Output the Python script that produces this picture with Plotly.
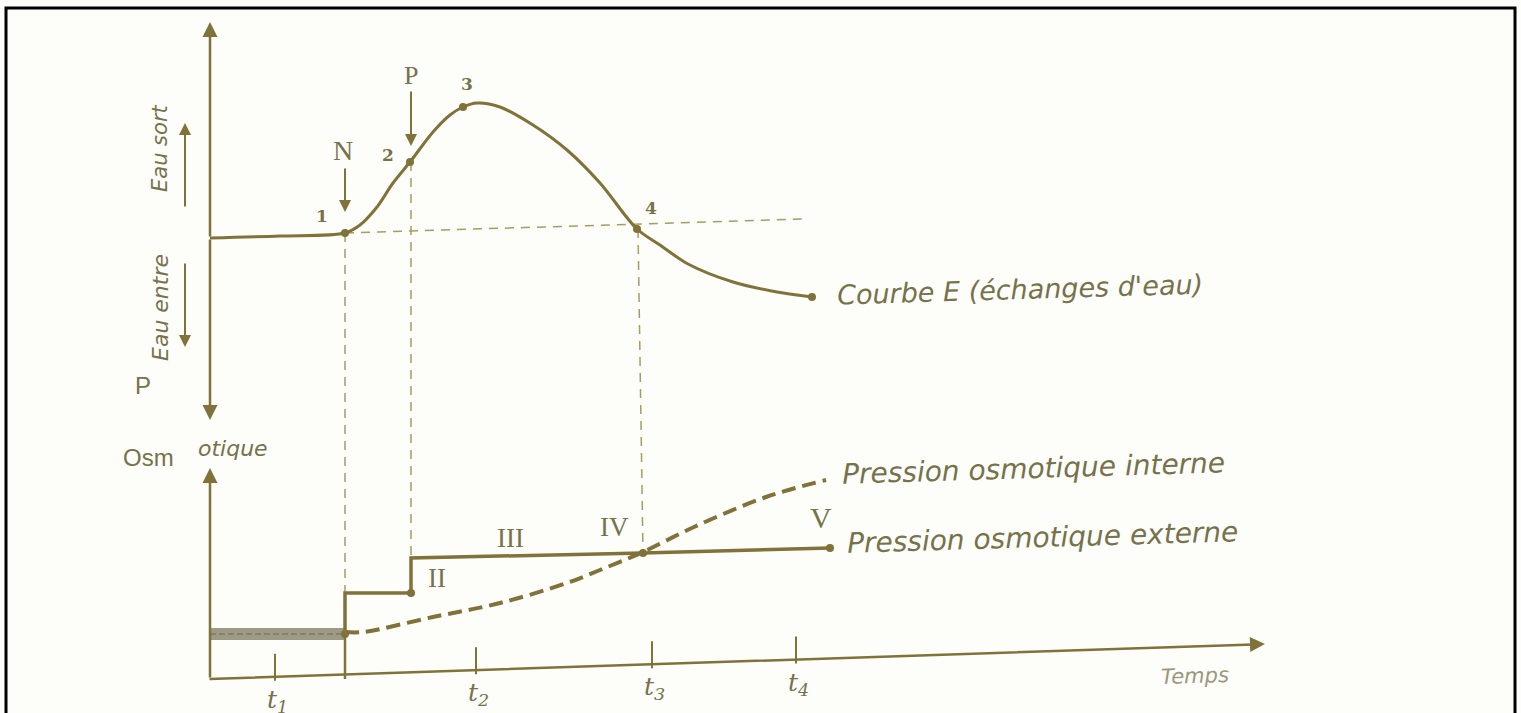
import plotly.graph_objects as go

# ---------------- data ----------------
# Upper panel: curve E (water exchanges) vs time
time_E = [0, 7, 13.5, 15.0, 16.7, 18.3, 20.0, 22.3, 24.0, 25.3, 26.7, 29.0, 32.3,
          35.7, 39.0, 42.7, 45.0, 47.8, 52.3, 56.7, 60.2]
E_vals = [-0.2, 0.0, 0.3, 1.1, 2.9, 5.3, 7.4, 10.4, 12.1, 12.9, 13.3, 12.9, 11.1,
          8.6, 5.3, 0.7, -0.9, -2.8, -4.6, -5.6, -6.1]
E_point_labels = ["1", "2", "3", "4"]
E_point_t = [13.5, 20.0, 25.3, 42.7]
E_point_v = [0.3, 7.4, 12.9, 0.7]
E_end_t = [60.2]
E_end_v = [-6.1]
E_ref_t = [13.5, 59.5]          # dashed reference level (E = 0)
E_ref_v = [0.3, 1.7]

# Lower panel: osmotic pressures vs time
band_t = [0, 13.5]              # common level before N
band_v = [4.6, 4.6]
ext_t = [13.5, 13.5, 20.1, 20.1, 43.3, 62.0]     # external (step) pressure
ext_v = [4.6, 8.7, 8.7, 12.2, 12.7, 13.2]
int_t = [13.5, 15.3, 22.3, 29.0, 35.7, 39.0, 43.3, 48.4, 55.6, 61.6]  # internal
int_v = [4.8, 4.8, 6.3, 7.7, 9.7, 11.0, 12.8, 15.3, 18.3, 20.0]
osm_dot_t = [13.5, 20.1, 43.3, 62.0]
osm_dot_v = [4.6, 8.7, 12.7, 13.2]
roman_labels = ["II", "III", "IV", "V"]
roman_t = [22.7, 30.0, 40.4, 61.1]
roman_v = [10.2, 14.2, 15.3, 16.3]

# Time axis ticks
tick_t = [6.5, 26.6, 44.2, 58.6]
tick_labels = ["t<sub>1</sub>", "t<sub>2</sub>", "t<sub>3</sub>", "t<sub>4</sub>"]

# ---------------- layout constants ----------------
E_OFFSET = 44.4       # vertical position of the E=0 level in the shared frame
LINE = "#807238"
GUIDE = "#a69d62"
TXT = "#76724a"
BAND = "#9d9a86"
W, H = 1521, 713

def e(v):
    return [x + E_OFFSET for x in v]

fig = go.Figure()

# guide dashed lines
fig.add_trace(go.Scatter(x=E_ref_t, y=e(E_ref_v), mode="lines",
                         line=dict(color=GUIDE, width=1.5, dash="9px,7px"), hoverinfo="skip"))
for (tt, tb, vt, vb) in [(13.5, 13.5, 0.3 + E_OFFSET, 8.7),
                         (20.1, 20.1, 7.4 + E_OFFSET, 12.2),
                         (42.8, 43.3, 0.7 + E_OFFSET, 12.7)]:
    fig.add_trace(go.Scatter(x=[tt, tb], y=[vt, vb], mode="lines",
                             line=dict(color=GUIDE, width=1.5, dash="9px,7px"), hoverinfo="skip"))

# curve E
fig.add_trace(go.Scatter(x=time_E, y=e(E_vals), mode="lines",
                         line=dict(color=LINE, width=3, shape="spline", smoothing=0.9),
                         hoverinfo="skip"))
fig.add_trace(go.Scatter(x=E_point_t + E_end_t, y=e(E_point_v + E_end_v), mode="markers",
                         marker=dict(color=LINE, size=8), hoverinfo="skip"))

# osmotic pressures
fig.add_trace(go.Scatter(x=band_t, y=band_v, mode="lines",
                         line=dict(color=BAND, width=12), hoverinfo="skip"))
fig.add_trace(go.Scatter(x=band_t, y=band_v, mode="lines",
                         line=dict(color="#86826a", width=2, dash="6px,3px"), hoverinfo="skip"))
fig.add_trace(go.Scatter(x=ext_t, y=ext_v, mode="lines",
                         line=dict(color=LINE, width=3.5), hoverinfo="skip"))
fig.add_trace(go.Scatter(x=int_t, y=int_v, mode="lines",
                         line=dict(color=LINE, width=4, dash="14px,7px", shape="spline"),
                         hoverinfo="skip"))
fig.add_trace(go.Scatter(x=osm_dot_t, y=osm_dot_v, mode="markers",
                         marker=dict(color=LINE, size=8), hoverinfo="skip"))

# N mark: solid segment from the step down to the time axis
fig.add_trace(go.Scatter(x=[13.5, 13.5], y=[4.6, 0.1], mode="lines",
                         line=dict(color=LINE, width=2.5), hoverinfo="skip"))

# ---------------- axes drawn as arrows ----------------
ax0 = (-0.2, 0.1)
ax1 = (105.5, 3.6)

def axis_y(t):
    return ax0[1] + (ax1[1] - ax0[1]) * (t - ax0[0]) / (ax1[0] - ax0[0])

ann = []

def arrow(x0, y0, x1, y1, color=LINE, width=2.5, head=2, size=1.2):
    ann.append(dict(x=x1, y=y1, ax=x0, ay=y0, xref="x", yref="y", axref="x", ayref="y",
                    text="", showarrow=True, arrowhead=head, arrowsize=size,
                    arrowwidth=width, arrowcolor=color))

arrow(ax0[0], ax0[1], ax1[0], ax1[1])                       # time axis
arrow(0, 0.1, 0, 21.2)                                      # osmotic axis
arrow(0, E_OFFSET - 0.2, 0, 65.8)                           # E axis up
arrow(0, E_OFFSET - 0.2, 0, 26.0)                           # E axis down
arrow(-2.5, 47.2, -2.5, 55.7, width=2)                      # "eau sort"
arrow(-2.5, 41.8, -2.5, 33.3, width=2)                      # "eau entre"
arrow(13.5, 51.3, 13.5, 46.8, width=2)                      # N arrow
arrow(20.1, 59.0, 20.1, 53.4, width=2)                      # P arrow

# tick marks
for t in tick_t:
    yy = axis_y(t)
    fig.add_trace(go.Scatter(x=[t, t], y=[yy - 0.4, yy + 2.3], mode="lines",
                             line=dict(color=LINE, width=2), hoverinfo="skip"))

def text(x, y, s, size=20, family="DejaVu Sans", color=TXT, angle=0, xanchor="center"):
    ann.append(dict(x=x, y=y, xref="x", yref="y", text=s, showarrow=False,
                    font=dict(size=size, family=family, color=color),
                    textangle=angle, xanchor=xanchor, yanchor="middle"))

for s, t in zip(tick_labels, tick_t):
    text(t + 0.2, axis_y(t) - 2.4, "<i>" + s + "</i>", size=25, family="DejaVu Serif")

text(13.3, 53.0, "N", size=28, family="Liberation Serif")
text(20.1, 60.5, "P", size=26, family="Liberation Serif")
for s, t, v in zip(E_point_labels, [11.2, 17.8, 25.7, 44.1], [46.4, 52.5, 59.6, 47.2]):
    text(t, v, "<b>" + s + "</b>", size=17, family="DejaVu Serif")
for s, t, v in zip(roman_labels, roman_t, roman_v):
    text(t, v, s, size=30 if s == "V" else 27, family="Liberation Serif")

text(62.5, 39.1, "<i>Courbe E (échanges d'eau)</i>", size=27, angle=-1.7, xanchor="left")
text(63.0, 21.2, "<i>Pression osmotique interne</i>", size=28, angle=-1.7, xanchor="left")
text(63.5, 14.3, "<i>Pression osmotique externe</i>", size=28, angle=-1.7, xanchor="left")
text(98.5, 0.4, "<i>Temps</i>", size=21, color="#9a977c", angle=-1.7)
text(-5.0, 53.2, "<i>Eau sort</i>", size=21, angle=-90)
text(-5.0, 37.2, "<i>Eau entre</i>", size=22, angle=-90)
text(-6.7, 29.5, "P", size=24, family="Liberation Sans")
text(-6.2, 22.3, "Osm", size=24, family="Liberation Sans")
text(2.3, 23.2, "<i>otique</i>", size=22)

fig.update_layout(
    width=W, height=H,
    margin=dict(l=0, r=0, t=0, b=0),
    paper_bgcolor="#fdfdfa", plot_bgcolor="#fdfdfa",
    showlegend=False,
    xaxis=dict(range=[-21, 131.1], visible=False, domain=[0, 1], fixedrange=True),
    yaxis=dict(range=[-3.3, 68.0], visible=False, domain=[0, 1], fixedrange=True),
    annotations=ann,
    shapes=[dict(type="rect", xref="paper", yref="paper",
                 x0=6 / W, x1=1515 / W, y0=-0.05, y1=1 - 8 / H,
                 line=dict(color="black", width=3), fillcolor="rgba(0,0,0,0)")],
)

fig.write_html("out.html", config={"displayModeBar": False},
               post_script="document.body.style.margin='0px';document.body.style.overflow='hidden';")
